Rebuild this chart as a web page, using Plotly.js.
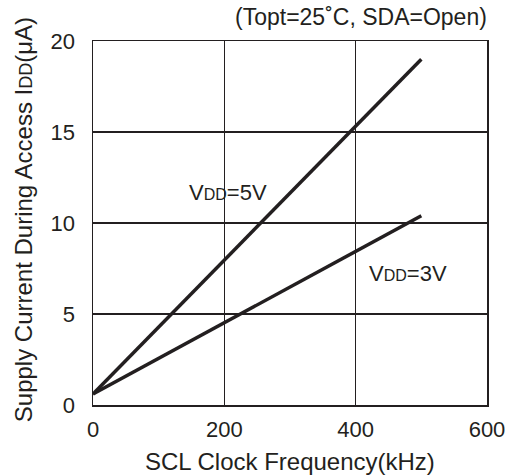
<!DOCTYPE html>
<html>
<head>
<meta charset="utf-8">
<script src="https://cdn.plot.ly/plotly-3.0.1.min.js"></script>
<style>
  html, body { margin: 0; padding: 0; background: #fff; }
  #chart { width: 513px; height: 476px; }
</style>
</head>
<body>
<div id="chart"></div>
<script>
// SCL clock frequency (kHz) at the two ends of each straight line
const freqKHz = [0, 500];
// Supply current during access (uA)
const idd5V = [0.6, 19.0];
const idd3V = [0.6, 10.4];

const xTicks = [0, 200, 400, 600];
const yTicks = [0, 5, 10, 15, 20];

const ink = '#231f20';
const family = 'Liberation Sans, Arial, sans-serif';
const font = { family: family, size: 22, color: ink };
const titleFont = { family: family, size: 24, color: ink };
const noteFont = { family: family, size: 23, color: ink };

const lineStyle = { color: ink, width: 3.5 };

const traces = [
  { x: freqKHz, y: idd5V, mode: 'lines', line: lineStyle, name: 'VDD=5V', hoverinfo: 'skip' },
  { x: freqKHz, y: idd3V, mode: 'lines', line: lineStyle, name: 'VDD=3V', hoverinfo: 'skip' }
];

const sub = (s, px) => '<span style="font-size:' + px + 'px">' + s + '</span>';

const layout = {
  width: 513,
  height: 476,
  margin: { l: 93, r: 26, t: 41, b: 71 },
  paper_bgcolor: '#fff',
  plot_bgcolor: '#fff',
  showlegend: false,
  font: font,
  xaxis: {
    range: [0, 600],
    tickvals: xTicks,
    ticktext: xTicks.map(String),
    showgrid: true,
    gridcolor: ink,
    gridwidth: 1.3,
    zeroline: false,
    showline: true,
    linecolor: ink,
    linewidth: 1.5,
    mirror: true,
    ticks: 'outside',
    ticklen: 4,
    tickcolor: 'rgba(0,0,0,0)',
    tickfont: font
  },
  yaxis: {
    range: [0, 20],
    tickvals: yTicks,
    ticktext: yTicks.map(String),
    showgrid: true,
    gridcolor: ink,
    gridwidth: 1.3,
    zeroline: false,
    showline: true,
    linecolor: ink,
    linewidth: 1.5,
    mirror: true,
    ticks: 'outside',
    ticklen: 12,
    tickcolor: 'rgba(0,0,0,0)',
    tickfont: font
  },
  annotations: [
    {
      text: '(Topt=25˚C, SDA=Open)',
      xref: 'paper', yref: 'paper',
      x: 1.005, y: 1.066, xanchor: 'right', yanchor: 'middle',
      showarrow: false, font: noteFont
    },
    {
      text: 'SCL Clock Frequency(kHz)',
      xref: 'paper', yref: 'paper',
      x: 0.5, y: -0.154, xanchor: 'center', yanchor: 'middle',
      showarrow: false, font: titleFont
    },
    {
      text: 'Supply Current During Access I' + sub('DD', 18) + '(μA)',
      xref: 'paper', yref: 'paper',
      x: -0.178, y: 0.51, xanchor: 'center', yanchor: 'middle',
      textangle: -90, showarrow: false, font: titleFont
    },
    {
      text: 'V' + sub('DD', 16) + '=5V',
      xref: 'x', yref: 'y', x: 206, y: 11.7,
      showarrow: false, font: font
    },
    {
      text: 'V' + sub('DD', 16) + '=3V',
      xref: 'x', yref: 'y', x: 479, y: 7.25,
      showarrow: false, font: font
    }
  ]
};

Plotly.newPlot('chart', traces, layout, { displayModeBar: false, staticPlot: true });
</script>
</body>
</html>
